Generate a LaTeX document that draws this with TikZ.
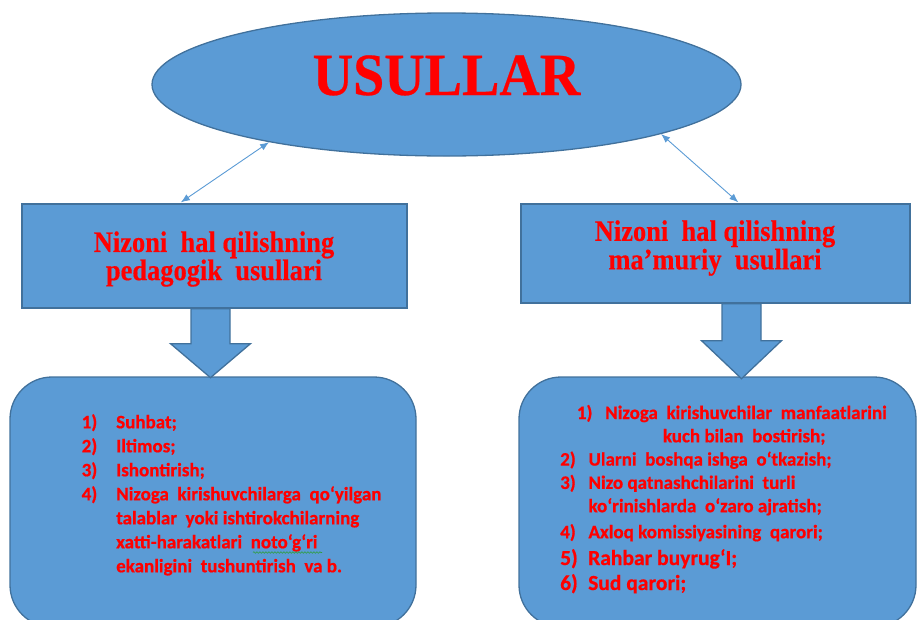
\documentclass[tikz,border=0pt]{standalone}
\usepackage{fontspec}
\setmainfont{Liberation Serif}[BoldFeatures={FakeBold=0.4}]
\newfontfamily\calfont{Carlito}[BoldFeatures={FakeBold=0.6}]
\usetikzlibrary{shapes.geometric,arrows.meta,calc,decorations.pathmorphing}
\definecolor{boxblue}{HTML}{5B9BD5}
\definecolor{edgeblue}{HTML}{41719C}
\definecolor{txtred}{HTML}{FF0000}
\definecolor{spellgreen}{HTML}{2E9E3E}
\newcommand{\tallline}[1]{\scalebox{0.98}[1.1]{#1}}
\begin{document}
\begin{tikzpicture}[x=1pt,y=-1pt,
  shapebox/.style={draw=edgeblue,fill=boxblue,line width=1.3pt},
  headtext/.style={align=center,text=txtred,inner sep=0pt,font=\bfseries\fontsize{27}{27}\selectfont},
  listtext/.style={text=txtred,inner sep=0pt,anchor=base west,font=\calfont\bfseries\fontsize{19}{24}\selectfont},
  thinarr/.style={draw=boxblue,line width=0.9pt,{Latex[length=9pt,width=7pt]}-{Latex[length=9pt,width=7pt]}},
  blockarr/.style={shapebox,line join=miter}]
\useasboundingbox (0,0) rectangle (918,619);

% top ellipse
\node[shapebox,ellipse,minimum width=589pt,minimum height=143pt,inner sep=0pt] (top) at (446.5,84.5) {};
\node[anchor=base,text=txtred,inner sep=0pt,font=\bfseries\fontsize{56}{60}\selectfont] (toptext) at (446.5,95) {\scalebox{1}[1.07]{USULLAR}};

% rectangles
\node[shapebox,rectangle,minimum width=385pt,minimum height=104pt,inner sep=0pt] (L) at (214.5,256) {};
\node[shapebox,rectangle,minimum width=389pt,minimum height=99pt,inner sep=0pt] (R) at (715.5,253.5) {};
\node[headtext] (Lt) at (214,259) {\tallline{Nizoni\ \ hal qilishning}\\\tallline{pedagogik\ \ usullari}};
\node[headtext,font=\bfseries\fontsize{27}{28.5}\selectfont] (Rt) at (715,248) {\tallline{Nizoni\ \ hal qilishning}\\\tallline{ma’muriy\ \ usullari}};

% thin double arrows
\draw[thinarr] (top.198) -- ($(L.north west)+(159.5,-1)$);
\draw[thinarr] (top.347.5) -- ($(R.north west)+(218,-1)$);

% rounded boxes
\node[shapebox,rectangle,rounded corners=42pt,minimum width=406pt,minimum height=250pt,inner sep=0pt] (LB) at (213,502) {};
\node[shapebox,rectangle,rounded corners=42pt,minimum width=397pt,minimum height=250pt,inner sep=0pt] (RB) at (717.5,502) {};

% block arrows
\coordinate (lb) at ($(L.south)+(-4,0)$);
\draw[blockarr] ($(lb)+(-19.5,0)$) -- ++(0,35) -- ++(-20.5,0) -- ($(lb)+(0,69)$) -- ($(lb)+(40,35)$) -- ++(-20.5,0) -- ++(0,-35) -- cycle;
\coordinate (rb) at ($(R.south)+(26,0)$);
\draw[blockarr] ($(rb)+(-19.5,0)$) -- ++(0,37) -- ++(-20.5,0) -- ($(rb)+(0,75)$) -- ($(rb)+(40,37)$) -- ++(-20.5,0) -- ++(0,-37) -- cycle;

% left list
\node[listtext] (Ll) at (81.5,428.3) {\begin{tabular}[t]{@{}l@{}}
\makebox[34.5pt][l]{1)}Suhbat;\\
\makebox[34.5pt][l]{2)}Iltimos;\\
\makebox[34.5pt][l]{3)}Ishontirish;\\
\makebox[34.5pt][l]{4)}Nizoga\ \ kirishuvchilarga\ \ qo‘yilgan\\
\hspace*{34.5pt}talablar\ \ yoki ishtirokchilarning\\
\hspace*{34.5pt}xatti-harakatlari\ \ noto‘g‘ri\\
\hspace*{34.5pt}ekanligini\ \ tushuntirish\ \ va b.
\end{tabular}};
\draw[spellgreen,line width=0.6pt,decorate,decoration={snake,amplitude=0.8pt,segment length=3pt}] (253,552.5) -- (322,552.5);

% right list
\node[listtext,font=\calfont\bfseries\fontsize{19}{23.3}\selectfont] (Rl) at (560,419) {\begin{tabular}[t]{@{}l@{}}
\hspace*{16.7pt}\makebox[28.3pt][l]{1)}Nizoga\ \ kirishuvchilar\ \ manfaatlarini\\
\hspace*{102.7pt}kuch bilan\ \ bostirish;\\
\makebox[28.3pt][l]{2)}Ularni\ \ boshqa ishga\ \ o‘tkazish;\\
\makebox[28.3pt][l]{3)}Nizo qatnashchilarini\ \ turli\\
\hspace*{28.3pt}ko‘rinishlarda\ \ o‘zaro ajratish;\\[2.7pt]
\makebox[28.3pt][l]{4)}Axloq komissiyasining\ \ qarori;\\[3.5pt]
{\fontsize{21.5}{26}\selectfont\makebox[28pt][l]{5)}Rahbar buyrug‘I;}\\[1.7pt]
{\fontsize{21.5}{26}\selectfont\makebox[28pt][l]{6)}Sud qarori;}
\end{tabular}};
\end{tikzpicture}
\end{document}
